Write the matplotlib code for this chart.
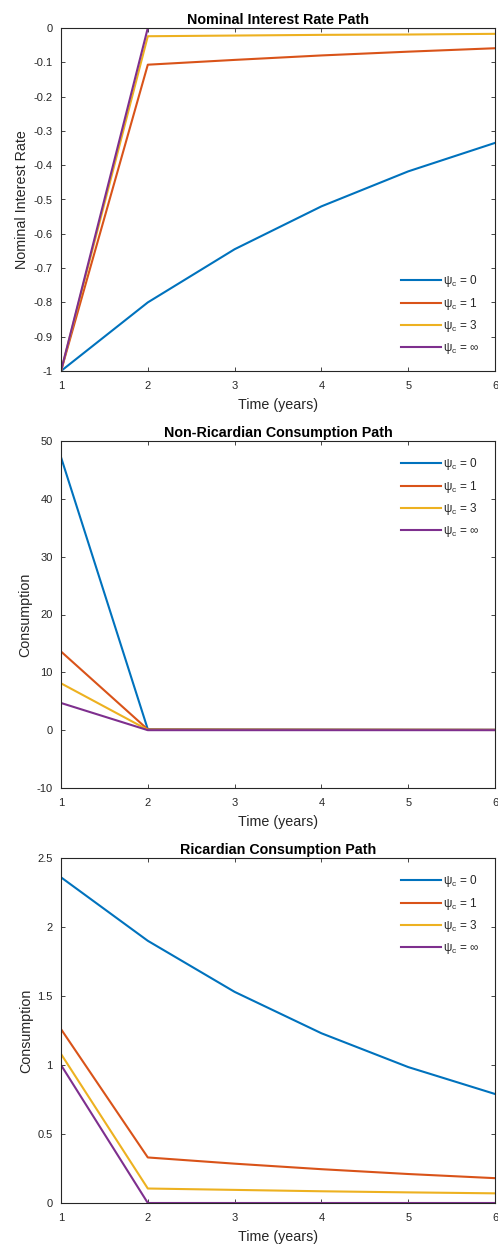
import matplotlib
matplotlib.use("Agg")
import matplotlib.pyplot as plt

plt.rcParams['font.family'] = ['Liberation Sans', 'DejaVu Sans']
plt.rcParams['axes.unicode_minus'] = False
plt.rcParams['mathtext.fontset'] = 'custom'
plt.rcParams['mathtext.rm'] = 'Liberation Sans'
plt.rcParams['mathtext.it'] = 'Liberation Sans:italic'

years = [1, 2, 3, 4, 5, 6]
labels = ['ψ$_\\mathrm{c}$ = 0', 'ψ$_\\mathrm{c}$ = 1', 'ψ$_\\mathrm{c}$ = 3', 'ψ$_\\mathrm{c}$ = ∞']
colors = ['#0072BD', '#D95319', '#EDB120', '#7E2F8E']

rate_psi0 = [-1.0, -0.80, -0.645, -0.52, -0.418, -0.335]
rate_psi1 = [-1.0, -0.107, -0.093, -0.080, -0.069, -0.059]
rate_psi3 = [-1.0, -0.024, -0.022, -0.020, -0.019, -0.017]
rate_psiinf = [-1.0, 0.0, 0.0, 0.0, 0.0, 0.0]

nonric_psi0 = [47.2, 0.15, 0.12, 0.1, 0.08, 0.07]
nonric_psi1 = [13.6, 0.12, 0.1, 0.09, 0.08, 0.07]
nonric_psi3 = [8.1, 0.05, 0.05, 0.04, 0.04, 0.03]
nonric_psiinf = [4.7, 0.0, 0.0, 0.0, 0.0, 0.0]

ric_psi0 = [2.36, 1.90, 1.53, 1.23, 0.985, 0.79]
ric_psi1 = [1.26, 0.33, 0.285, 0.245, 0.21, 0.18]
ric_psi3 = [1.08, 0.105, 0.095, 0.085, 0.077, 0.07]
ric_psiinf = [1.0, 0.0, 0.0, 0.0, 0.0, 0.0]

fig = plt.figure(figsize=(4.98, 12.5), dpi=100)
edge = '#262626'

panels = [
    dict(pos=[0.1225, 0.7032, 0.8715, 0.2744], series=[rate_psi0, rate_psi1, rate_psi3, rate_psiinf],
         title='Nominal Interest Rate Path', ylabel='Nominal Interest Rate',
         ylim=(-1, 0), yticks=[-1, -0.9, -0.8, -0.7, -0.6, -0.5, -0.4, -0.3, -0.2, -0.1, 0],
         yticklabels=['-1', '-0.9', '-0.8', '-0.7', '-0.6', '-0.5', '-0.4', '-0.3', '-0.2', '-0.1', '0'],
         loc='lower right'),
    dict(pos=[0.1225, 0.3696, 0.8715, 0.2776], series=[nonric_psi0, nonric_psi1, nonric_psi3, nonric_psiinf],
         title='Non-Ricardian Consumption Path', ylabel='Consumption',
         ylim=(-10, 50), yticks=[-10, 0, 10, 20, 30, 40, 50],
         yticklabels=['-10', '0', '10', '20', '30', '40', '50'], loc='upper right'),
    dict(pos=[0.1225, 0.0376, 0.8715, 0.2760], series=[ric_psi0, ric_psi1, ric_psi3, ric_psiinf],
         title='Ricardian Consumption Path', ylabel='Consumption',
         ylim=(0, 2.5), yticks=[0, 0.5, 1, 1.5, 2, 2.5],
         yticklabels=['0', '0.5', '1', '1.5', '2', '2.5'], loc='upper right'),
]

for p in panels:
    ax = fig.add_axes(p['pos'])
    for s, c, l in zip(p['series'], colors, labels):
        ax.plot(years, s, color=c, lw=1.5, label=l)
    ax.set_xlim(1, 6)
    ax.set_ylim(*p['ylim'])
    ax.set_xticks(years)
    ax.set_xticklabels([str(y) for y in years])
    ax.set_yticks(p['yticks'])
    ax.set_yticklabels(p['yticklabels'])
    ax.tick_params(direction='in', top=True, right=True, labelsize=8, colors=edge, length=3, width=0.6)
    ax.tick_params(axis='x', pad=7)
    ax.tick_params(axis='y', pad=6)
    for sp in ax.spines.values():
        sp.set_color(edge)
        sp.set_linewidth(0.8)
    ax.set_title(p['title'], fontsize=10.3, fontweight='bold', color='black', pad=3)
    ax.set_xlabel('Time (years)', fontsize=10.3, color=edge, labelpad=5)
    ax.set_ylabel(p['ylabel'], fontsize=10.3, color=edge, labelpad=3)
    leg = ax.legend(loc=p['loc'], frameon=False, fontsize=8.5, handlelength=3.4, labelspacing=0.55,
                    handletextpad=0.2, borderaxespad=0.9)
    for t in leg.get_texts():
        t.set_color(edge)

fig.savefig('out.png', dpi=100)
